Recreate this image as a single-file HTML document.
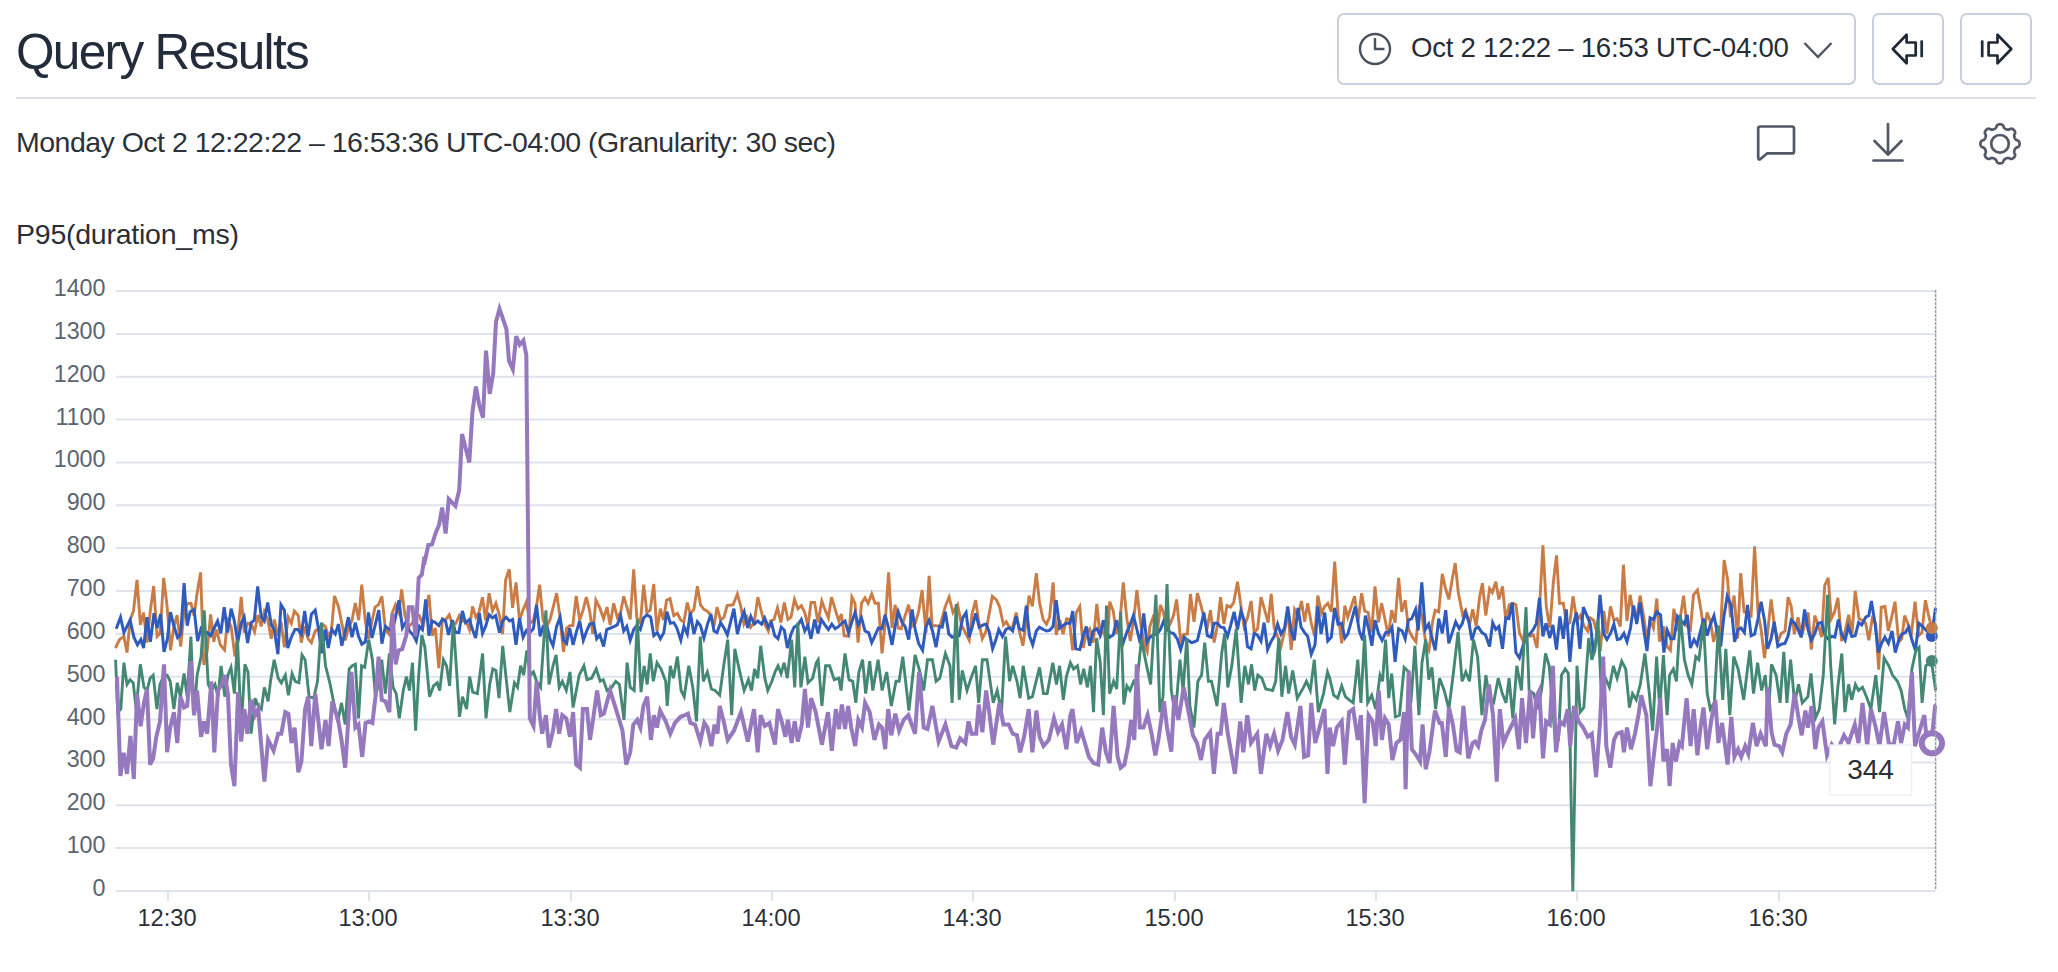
<!DOCTYPE html>
<html><head><meta charset="utf-8">
<style>
html,body{margin:0;padding:0;background:#fff;width:2058px;height:972px;overflow:hidden;position:relative;font-family:"Liberation Sans",sans-serif;}
.abs{position:absolute;white-space:nowrap;}
.title{left:16px;top:22px;font-size:49.5px;letter-spacing:-1.655px;color:#222c3a;line-height:60px;}
.hr{position:absolute;left:16px;top:97px;width:2020px;height:2px;background:#dde2ea;}
.btn{position:absolute;top:13px;height:72px;border:2px solid #c8d0dd;border-radius:7px;box-sizing:border-box;background:#fff;}
.sub{left:16px;top:125px;font-size:28.5px;letter-spacing:-0.513px;color:#2d3239;line-height:34px;}
.ptitle{left:16px;top:216.5px;font-size:28.5px;letter-spacing:-0.242px;color:#2a2f37;line-height:34px;}
.datetxt{left:1411px;top:31px;font-size:27.6px;letter-spacing:-0.256px;color:#262c36;line-height:34px;}
svg.chart{position:absolute;left:0;top:0;}
svg.icons{position:absolute;left:0;top:0;}
</style></head><body>
<div class="abs title">Query Results</div>
<div class="hr"></div>
<div class="btn" style="left:1337px;width:519px;"></div>
<div class="btn" style="left:1872px;width:72px;"></div>
<div class="btn" style="left:1960px;width:72px;"></div>
<div class="abs datetxt">Oct 2 12:22 – 16:53 UTC-04:00</div>
<div class="abs sub">Monday Oct 2 12:22:22 – 16:53:36 UTC-04:00 (Granularity: 30 sec)</div>
<div class="abs ptitle">P95(duration_ms)</div>
<svg class="chart" width="2058" height="972" viewBox="0 0 2058 972">
<g stroke="#dfe3ec" stroke-width="2" fill="none"><line x1="116" y1="891.0" x2="1936" y2="891.0"/><line x1="116" y1="848.1" x2="1936" y2="848.1"/><line x1="116" y1="805.3" x2="1936" y2="805.3"/><line x1="116" y1="762.4" x2="1936" y2="762.4"/><line x1="116" y1="719.6" x2="1936" y2="719.6"/><line x1="116" y1="676.7" x2="1936" y2="676.7"/><line x1="116" y1="633.9" x2="1936" y2="633.9"/><line x1="116" y1="591.0" x2="1936" y2="591.0"/><line x1="116" y1="548.1" x2="1936" y2="548.1"/><line x1="116" y1="505.3" x2="1936" y2="505.3"/><line x1="116" y1="462.4" x2="1936" y2="462.4"/><line x1="116" y1="419.6" x2="1936" y2="419.6"/><line x1="116" y1="376.7" x2="1936" y2="376.7"/><line x1="116" y1="333.9" x2="1936" y2="333.9"/><line x1="116" y1="291.0" x2="1936" y2="291.0"/></g>
<g stroke="#dfe3ec" stroke-width="2" fill="none"><line x1="168.0" y1="891" x2="168.0" y2="901"/><line x1="369.0" y1="891" x2="369.0" y2="901"/><line x1="571.0" y1="891" x2="571.0" y2="901"/><line x1="772.0" y1="891" x2="772.0" y2="901"/><line x1="973.0" y1="891" x2="973.0" y2="901"/><line x1="1175.0" y1="891" x2="1175.0" y2="901"/><line x1="1376.0" y1="891" x2="1376.0" y2="901"/><line x1="1577.0" y1="891" x2="1577.0" y2="901"/><line x1="1779.0" y1="891" x2="1779.0" y2="901"/></g>
<g font-family="Liberation Sans" font-size="23.3" fill="#5b6471" text-anchor="end"><text x="105.5" y="896.0">0</text><text x="105.5" y="853.1">100</text><text x="105.5" y="810.3">200</text><text x="105.5" y="767.4">300</text><text x="105.5" y="724.6">400</text><text x="105.5" y="681.7">500</text><text x="105.5" y="638.9">600</text><text x="105.5" y="596.0">700</text><text x="105.5" y="553.1">800</text><text x="105.5" y="510.3">900</text><text x="105.5" y="467.4">1000</text><text x="105.5" y="424.6">1100</text><text x="105.5" y="381.7">1200</text><text x="105.5" y="338.9">1300</text><text x="105.5" y="296.0">1400</text></g>
<g font-family="Liberation Sans" font-size="23.6" fill="#2b3038" text-anchor="middle"><text x="167.0" y="926">12:30</text><text x="368.0" y="926">13:00</text><text x="570.0" y="926">13:30</text><text x="771.0" y="926">14:00</text><text x="972.0" y="926">14:30</text><text x="1174.0" y="926">15:00</text><text x="1375.0" y="926">15:30</text><text x="1576.0" y="926">16:00</text><text x="1778.0" y="926">16:30</text></g>
<g fill="none" stroke-linejoin="miter" stroke-linecap="butt"><path d="M115.4,648.0 L119.6,639.5 L123.9,636.4 L127.0,652.6 L130.1,620.2 L133.5,611.0 L137.0,579.8 L140.4,624.9 L143.5,612.5 L147.0,642.6 L150.4,610.2 L153.7,586.0 L157.1,636.4 L160.1,633.4 L163.7,577.8 L167.1,606.4 L170.5,650.3 L173.6,628.0 L177.1,615.1 L180.7,646.5 L184.1,611.0 L187.5,603.6 L191.0,603.3 L194.1,615.6 L197.2,592.5 L200.6,572.4 L203.8,665.0 L207.2,651.1 L210.6,614.4 L213.8,641.8 L216.5,629.5 L220.3,644.9 L224.5,649.9 L227.6,620.2 L231.1,626.4 L235.0,656.5 L238.1,631.0 L241.2,596.8 L244.2,632.6 L247.8,623.3 L251.2,624.1 L254.6,631.8 L257.8,615.1 L261.2,626.4 L264.3,611.8 L267.7,619.5 L271.3,638.8 L274.3,619.5 L277.9,635.7 L281.0,621.8 L284.4,647.2 L288.2,617.2 L291.3,623.3 L294.4,611.0 L298.3,615.6 L301.3,642.6 L304.7,626.4 L308.1,638.8 L311.4,642.6 L315.2,631.0 L318.6,628.7 L322.2,624.1 L325.3,626.4 L328.3,635.7 L331.4,631.0 L334.5,595.9 L338.4,606.4 L341.8,623.3 L345.3,640.3 L348.4,628.0 L352.0,620.2 L355.3,603.0 L358.7,620.2 L361.8,584.7 L365.4,621.8 L368.5,638.8 L372.0,621.0 L375.1,607.1 L378.5,604.8 L381.9,596.3 L385.4,629.5 L389.0,634.1 L392.4,612.5 L395.5,604.8 L398.9,612.5 L401.6,589.4 L405.0,615.6 L408.6,626.4 L412.1,623.3 L416.3,614.1 L419.4,615.6 L423.1,626.4 L428.9,594.8 L432.3,635.7 L435.4,628.0 L438.8,668.1 L442.4,618.7 L445.5,620.2 L449.3,614.8 L452.4,624.9 L455.8,623.3 L459.3,615.6 L462.4,621.0 L466.3,621.8 L469.4,629.5 L472.5,606.4 L475.9,617.2 L478.9,612.5 L482.5,597.1 L485.6,620.2 L489.1,593.2 L492.5,611.0 L495.9,603.3 L499.5,615.6 L502.6,634.1 L505.6,580.1 L509.2,569.3 L512.6,607.9 L516.0,582.4 L519.5,620.2 L522.6,611.0 L526.5,601.7 L529.9,623.3 L533.4,620.2 L536.5,606.4 L539.6,584.7 L543.1,620.2 L546.5,626.4 L549.9,620.2 L553.0,607.9 L556.6,593.2 L559.6,614.1 L563.5,651.9 L566.6,628.0 L569.7,625.6 L572.8,625.6 L576.2,595.9 L579.7,620.2 L583.3,609.4 L586.3,597.1 L589.7,611.0 L592.8,634.1 L595.9,600.2 L599.8,607.9 L603.6,618.7 L607.0,607.1 L610.1,624.9 L613.7,603.3 L617.2,617.2 L620.6,612.5 L623.7,596.3 L627.1,607.9 L630.2,619.5 L633.7,569.3 L636.8,617.9 L640.3,623.3 L643.7,584.7 L646.8,612.5 L650.2,610.2 L653.8,584.0 L656.9,631.0 L660.4,608.7 L663.5,620.2 L666.6,600.2 L670.0,598.6 L673.8,615.6 L677.4,613.3 L680.8,620.2 L683.9,621.8 L687.3,602.5 L690.3,614.1 L693.9,609.4 L697.4,586.3 L700.5,604.8 L703.9,609.4 L707.0,611.0 L710.1,614.1 L714.0,626.4 L717.0,607.1 L720.6,620.2 L724.0,617.2 L727.1,605.6 L733.1,604.8 L737.4,594.0 L740.8,606.4 L743.9,624.1 L747.0,617.2 L750.8,627.2 L754.4,621.8 L757.8,597.1 L761.6,612.5 L764.7,624.1 L768.3,631.0 L770.4,621.0 L774.0,619.5 L777.5,607.9 L780.9,622.6 L784.3,602.5 L787.9,619.5 L791.0,617.2 L794.5,599.4 L797.9,608.7 L801.3,605.6 L804.8,612.5 L807.9,626.4 L811.0,602.5 L814.6,602.5 L818.0,622.6 L821.8,601.0 L824.9,609.4 L828.4,617.9 L831.5,597.1 L835.2,609.4 L838.8,621.0 L841.4,614.1 L844.2,635.7 L848.8,636.4 L851.9,597.1 L855.0,603.3 L858.1,642.6 L861.5,603.3 L865.0,597.9 L868.1,603.3 L871.7,594.0 L875.0,603.3 L878.4,603.3 L882.0,653.4 L885.1,624.1 L888.6,572.4 L892.0,628.0 L895.1,604.8 L898.2,628.0 L901.3,628.7 L905.1,615.6 L908.7,604.8 L911.8,626.4 L915.2,623.3 L918.6,611.8 L922.1,590.1 L926.0,632.6 L929.1,575.8 L932.1,626.4 L935.2,625.6 L939.9,626.4 L945.3,606.4 L949.1,597.1 L953.0,612.5 L957.6,604.8 L961.5,624.9 L965.3,632.6 L969.2,640.3 L972.0,614.1 L975.7,600.2 L978.7,621.8 L982.3,638.8 L986.1,631.0 L992.3,596.3 L996.6,600.2 L999.7,607.1 L1003.4,624.9 L1006.2,621.8 L1009.3,627.2 L1012.4,628.0 L1016.2,612.5 L1019.3,631.0 L1022.9,645.7 L1026.0,623.3 L1029.0,595.6 L1032.4,606.4 L1036.3,573.2 L1039.4,601.7 L1043.1,619.5 L1046.5,624.1 L1049.6,617.2 L1053.1,582.4 L1056.2,634.9 L1059.8,620.2 L1063.1,634.1 L1066.5,618.7 L1069.3,619.5 L1072.7,650.3 L1076.3,612.5 L1079.8,606.4 L1083.2,648.0 L1086.3,632.6 L1089.7,628.7 L1093.2,642.6 L1096.8,604.0 L1100.2,635.7 L1103.6,629.5 L1107.1,648.0 L1109.7,601.7 L1113.3,611.0 L1116.4,634.1 L1119.9,621.8 L1123.3,582.4 L1126.7,617.2 L1130.3,641.1 L1133.8,618.7 L1136.9,590.1 L1140.3,621.0 L1144.2,644.9 L1147.2,651.9 L1149.9,626.4 L1153.9,614.8 L1157.0,635.7 L1160.4,604.8 L1163.4,612.5 L1166.8,629.5 L1170.4,623.3 L1173.5,615.6 L1176.6,599.4 L1180.7,640.3 L1183.8,634.1 L1187.4,634.1 L1190.4,594.0 L1194.0,621.8 L1197.4,593.2 L1200.8,604.8 L1203.9,617.2 L1207.4,626.4 L1210.5,610.2 L1214.1,642.6 L1217.5,624.9 L1220.5,597.1 L1223.9,624.1 L1227.0,605.6 L1230.6,607.1 L1233.7,602.5 L1237.5,581.7 L1240.9,605.6 L1244.0,626.4 L1247.5,617.9 L1251.1,601.0 L1254.2,632.6 L1257.6,628.7 L1261.0,597.1 L1264.1,607.9 L1268.1,622.6 L1271.2,594.0 L1274.2,628.0 L1277.6,636.4 L1281.0,646.5 L1284.6,631.0 L1287.7,610.2 L1291.2,649.9 L1294.6,609.4 L1298.0,615.6 L1301.5,601.0 L1304.6,621.8 L1307.7,603.3 L1311.3,623.3 L1314.7,636.4 L1317.8,595.6 L1321.6,613.3 L1324.7,606.4 L1327.8,603.3 L1331.3,611.8 L1334.7,561.6 L1338.1,614.1 L1341.7,643.4 L1344.8,605.6 L1347.8,617.2 L1354.6,596.3 L1358.0,621.8 L1361.6,593.2 L1364.7,611.0 L1368.2,612.5 L1371.6,632.6 L1375.0,586.3 L1378.5,622.6 L1381.6,603.3 L1385.2,620.2 L1388.3,636.4 L1391.7,610.2 L1395.1,622.6 L1398.6,577.8 L1401.7,611.8 L1405.2,600.2 L1408.6,629.5 L1412.0,636.4 L1416.0,641.8 L1419.4,604.8 L1422.5,620.2 L1425.6,641.8 L1429.0,649.6 L1432.6,621.8 L1435.2,610.2 L1438.7,611.8 L1442.3,573.9 L1445.4,587.8 L1448.8,599.4 L1451.8,581.7 L1455.2,563.1 L1458.3,592.5 L1462.6,614.8 L1465.7,610.2 L1469.6,624.1 L1472.7,609.4 L1476.2,626.4 L1479.6,597.1 L1482.4,583.2 L1485.8,615.6 L1489.6,588.6 L1492.3,592.5 L1495.8,581.7 L1498.9,599.4 L1502.5,586.3 L1505.8,620.2 L1509.2,604.8 L1512.8,603.3 L1515.9,604.8 L1519.4,632.6 L1522.8,640.3 L1525.9,632.6 L1529.8,636.4 L1533.3,634.9 L1537.0,648.0 L1539.5,607.9 L1542.9,545.4 L1546.3,606.4 L1549.8,628.0 L1553.4,581.7 L1556.5,555.4 L1559.5,603.3 L1563.3,603.3 L1566.8,624.9 L1569.9,622.6 L1573.0,596.3 L1576.8,620.2 L1580.2,615.6 L1583.8,625.6 L1587.6,631.0 L1590.4,617.9 L1593.5,620.2 L1596.9,632.6 L1600.3,651.1 L1603.8,611.0 L1606.9,634.1 L1610.5,606.4 L1613.9,620.2 L1617.0,618.7 L1620.3,626.4 L1623.4,564.7 L1627.0,621.0 L1630.1,594.8 L1633.6,614.1 L1636.7,618.7 L1640.1,595.6 L1644.0,618.7 L1647.0,640.3 L1650.1,620.2 L1653.4,628.0 L1656.8,598.6 L1659.4,640.3 L1660.0,640.3 L1663.9,626.4 L1667.0,646.5 L1670.4,650.3 L1673.9,608.7 L1677.5,631.0 L1680.6,615.6 L1683.6,595.6 L1687.0,626.4 L1690.4,629.5 L1693.5,594.8 L1697.5,590.1 L1700.9,609.4 L1704.0,632.6 L1707.1,612.5 L1710.5,621.8 L1713.6,641.8 L1717.1,628.0 L1720.2,638.8 L1724.1,560.1 L1727.5,578.6 L1730.5,617.2 L1734.1,595.6 L1737.6,638.8 L1740.7,573.2 L1744.1,611.8 L1747.5,612.5 L1751.1,615.6 L1754.6,546.2 L1758.0,612.5 L1761.1,629.5 L1764.5,658.0 L1767.6,632.6 L1771.1,599.4 L1774.2,624.1 L1777.8,641.8 L1781.2,633.4 L1785.0,631.0 L1788.1,597.1 L1791.2,606.4 L1794.3,634.1 L1798.1,617.2 L1801.2,637.2 L1804.3,626.4 L1808.2,612.5 L1811.3,649.6 L1814.8,615.6 L1818.2,624.9 L1821.6,637.2 L1824.7,585.5 L1828.2,577.8 L1831.3,618.7 L1834.4,612.5 L1837.9,597.9 L1841.6,641.1 L1845.2,631.0 L1848.7,614.8 L1852.1,633.4 L1855.2,590.9 L1859.1,618.7 L1862.2,620.2 L1865.7,623.3 L1868.8,640.3 L1872.2,618.7 L1875.6,623.3 L1878.7,669.6 L1881.2,607.1 L1884.9,606.4 L1888.4,631.0 L1892.0,615.6 L1895.0,601.7 L1898.7,641.8 L1901.8,638.8 L1904.6,615.6 L1908.0,624.1 L1911.5,632.6 L1915.1,601.7 L1918.5,635.7 L1921.9,632.6 L1925.4,600.2 L1929.0,617.2 L1931.6,628.0 L1935.5,628.3" stroke="#c97c46" stroke-width="2.9"/><path d="M116.2,628.7 L120.5,617.2 L123.9,632.6 L130.1,620.2 L133.9,637.2 L137.5,644.9 L140.9,639.5 L143.6,648.0 L147.0,617.2 L150.4,641.8 L154.0,613.3 L157.1,628.0 L160.6,614.1 L164.0,651.9 L167.4,638.8 L170.5,612.2 L174.0,626.4 L177.6,637.5 L180.7,634.1 L184.1,583.2 L187.2,625.6 L190.2,611.8 L194.1,609.4 L197.6,641.1 L201.0,628.7 L204.1,632.6 L207.2,632.6 L210.6,635.7 L214.2,628.0 L217.6,621.0 L220.8,633.4 L224.2,607.1 L227.6,632.6 L231.1,608.7 L234.2,620.2 L237.8,642.6 L241.2,623.3 L244.2,617.2 L247.6,643.1 L251.2,622.6 L254.3,620.2 L257.7,586.3 L261.2,617.2 L264.3,621.0 L267.7,602.5 L271.3,624.9 L274.3,629.5 L277.9,654.2 L281.0,604.8 L284.4,610.2 L287.8,648.0 L291.3,637.2 L294.9,629.5 L297.9,629.5 L301.3,634.1 L304.7,611.0 L308.1,636.4 L311.4,614.1 L315.2,610.2 L318.6,629.5 L321.7,653.4 L325.3,629.5 L328.3,648.0 L331.9,629.5 L335.3,634.1 L338.4,624.1 L341.8,645.7 L345.3,631.0 L348.4,617.2 L352.0,637.2 L355.3,622.6 L358.4,635.7 L361.8,644.2 L365.4,641.8 L368.5,612.5 L372.0,638.0 L375.4,624.1 L378.8,610.2 L381.9,643.7 L385.4,626.4 L389.0,629.5 L392.4,631.0 L395.5,617.2 L398.9,600.2 L402.4,628.0 L406.0,621.8 L409.4,631.0 L413.2,634.9 L416.3,641.1 L419.4,626.4 L422.3,629.5 L425.7,599.4 L428.9,635.7 L432.0,621.0 L435.4,622.6 L438.8,625.6 L442.4,619.5 L445.5,621.0 L448.5,634.9 L452.4,620.2 L455.5,632.6 L458.9,632.6 L462.4,611.0 L465.5,622.6 L469.4,619.5 L472.5,629.5 L475.6,638.0 L479.4,613.3 L482.5,633.4 L485.6,626.4 L489.1,614.8 L492.5,617.9 L495.6,615.6 L499.5,632.6 L502.6,621.0 L506.1,617.2 L509.5,621.0 L512.6,619.5 L516.0,644.9 L519.5,617.9 L523.1,637.2 L526.5,630.3 L529.9,632.6 L533.4,628.7 L536.5,604.8 L540.1,636.4 L543.1,626.4 L546.5,624.1 L549.9,638.8 L553.0,645.7 L556.6,626.4 L560.1,617.2 L563.5,640.3 L566.6,643.4 L569.7,628.0 L573.1,644.9 L576.2,632.6 L579.7,621.0 L583.3,640.3 L586.7,631.0 L589.7,624.1 L593.6,623.3 L596.7,638.8 L599.8,634.9 L603.6,646.5 L606.7,629.5 L610.6,628.0 L614.4,626.4 L617.2,624.9 L620.6,615.6 L623.7,631.0 L626.8,626.4 L630.2,640.3 L633.7,629.5 L636.8,625.6 L640.3,629.5 L643.7,617.9 L647.1,614.8 L650.7,617.2 L653.8,635.7 L657.3,632.6 L660.4,638.8 L663.8,632.6 L666.9,611.8 L670.3,623.3 L673.8,622.6 L676.9,628.0 L680.8,640.3 L683.9,626.4 L687.3,634.1 L690.3,612.5 L693.9,634.1 L697.4,621.8 L700.5,625.6 L703.9,638.0 L707.3,624.9 L710.9,614.1 L714.0,631.0 L717.0,632.6 L720.6,622.6 L724.0,628.0 L727.4,634.9 L733.9,608.7 L737.4,634.1 L740.8,620.2 L744.2,611.8 L747.7,628.0 L750.8,616.4 L754.4,624.1 L757.8,621.0 L761.6,624.1 L764.7,617.9 L768.3,627.2 L771.4,622.6 L774.7,635.7 L778.1,638.8 L781.2,627.2 L784.3,630.3 L787.4,648.0 L791.0,634.1 L794.0,627.2 L797.9,624.9 L801.3,619.5 L804.8,631.0 L807.9,625.6 L811.0,638.8 L814.6,619.5 L818.0,633.4 L821.3,619.5 L824.9,624.9 L828.4,629.5 L831.8,624.1 L835.2,628.7 L838.8,626.4 L842.3,622.6 L845.0,621.0 L848.5,632.6 L851.9,621.8 L855.0,612.5 L858.1,624.9 L861.5,617.9 L865.0,631.0 L868.6,632.6 L871.7,642.6 L875.0,635.7 L878.4,628.0 L882.0,628.7 L885.1,614.8 L888.6,628.0 L892.0,644.9 L895.1,626.4 L898.2,611.8 L902.1,622.6 L905.1,626.4 L908.7,639.5 L912.1,609.4 L915.2,629.5 L918.6,643.4 L922.6,650.3 L925.7,627.2 L929.1,620.2 L932.5,631.0 L936.0,647.2 L939.5,626.4 L942.2,627.2 L945.3,611.8 L948.8,634.1 L952.2,637.2 L955.6,635.7 L959.1,635.7 L962.7,617.9 L966.1,612.5 L969.2,637.2 L972.6,625.6 L975.7,613.3 L979.2,627.2 L983.1,624.9 L986.1,624.1 L989.2,631.8 L992.6,648.8 L995.7,640.3 L998.8,629.5 L1002.4,636.4 L1005.9,629.5 L1009.3,628.0 L1012.7,631.0 L1016.2,616.4 L1019.3,628.7 L1023.2,630.3 L1026.3,605.6 L1029.4,635.7 L1032.7,644.9 L1036.3,631.0 L1039.4,627.2 L1043.4,629.5 L1046.5,631.0 L1049.6,630.3 L1053.1,626.4 L1056.2,600.2 L1059.8,628.0 L1063.1,625.6 L1066.5,623.3 L1070.1,623.3 L1072.7,611.0 L1075.8,648.8 L1079.8,649.6 L1083.2,635.7 L1086.3,626.4 L1089.7,645.7 L1093.2,631.0 L1096.8,628.7 L1100.2,634.9 L1103.3,620.2 L1106.7,632.6 L1109.7,637.2 L1113.3,634.9 L1116.4,620.2 L1119.9,632.6 L1123.3,642.6 L1126.7,632.6 L1130.3,624.1 L1133.4,615.6 L1136.9,629.5 L1140.3,643.4 L1143.7,613.3 L1146.8,642.6 L1149.9,637.2 L1153.4,634.9 L1157.0,634.1 L1160.4,629.5 L1163.4,621.8 L1166.8,628.7 L1170.4,632.6 L1173.5,633.4 L1177.3,638.8 L1180.7,649.6 L1184.3,637.2 L1188.1,640.3 L1191.5,642.6 L1194.6,641.8 L1197.4,640.3 L1200.8,626.4 L1203.9,612.5 L1207.4,635.7 L1211.0,637.2 L1214.1,623.3 L1217.5,623.3 L1220.8,627.2 L1223.9,627.6 L1227.5,636.4 L1230.6,625.6 L1234.1,611.8 L1237.5,629.5 L1240.9,611.0 L1244.5,621.0 L1247.5,646.5 L1251.1,648.8 L1254.2,633.4 L1257.3,634.9 L1261.0,641.1 L1264.1,622.6 L1267.6,649.6 L1271.2,641.1 L1274.2,636.4 L1277.6,624.1 L1281.0,634.1 L1284.6,628.0 L1287.7,606.4 L1291.2,631.0 L1294.3,640.3 L1298.0,607.9 L1301.1,627.2 L1304.6,632.6 L1307.7,636.4 L1311.3,654.2 L1315.0,644.9 L1317.8,606.4 L1321.1,634.1 L1324.7,612.5 L1327.8,641.1 L1331.3,637.2 L1334.7,607.9 L1338.1,624.1 L1341.7,623.3 L1344.8,638.0 L1347.8,634.1 L1355.4,606.4 L1359.3,631.0 L1362.7,640.3 L1365.4,615.6 L1368.8,629.5 L1371.9,645.7 L1375.0,620.2 L1378.5,633.4 L1382.1,640.3 L1385.8,632.6 L1388.9,632.6 L1392.0,627.2 L1395.1,661.9 L1398.6,628.7 L1402.2,631.0 L1405.2,638.8 L1408.3,620.2 L1411.7,618.7 L1415.6,609.4 L1418.2,630.3 L1421.8,582.4 L1425.3,629.5 L1428.7,624.1 L1431.8,637.2 L1435.2,650.3 L1438.7,618.7 L1442.3,633.4 L1445.7,610.2 L1448.8,643.4 L1452.2,632.6 L1455.7,621.8 L1459.2,628.7 L1462.3,623.3 L1465.4,612.5 L1468.8,621.8 L1471.9,640.3 L1475.3,628.7 L1478.4,627.2 L1481.9,632.6 L1485.5,634.9 L1489.6,646.5 L1492.7,622.6 L1495.8,629.5 L1498.9,626.4 L1502.5,648.8 L1505.8,617.9 L1508.9,618.7 L1512.3,602.5 L1515.9,652.6 L1519.4,658.0 L1522.8,646.5 L1526.2,635.7 L1529.8,634.1 L1533.3,629.5 L1536.4,623.3 L1539.5,597.9 L1542.9,636.4 L1546.0,623.3 L1549.8,638.0 L1552.9,624.9 L1556.5,649.6 L1559.9,616.4 L1563.3,638.8 L1566.3,609.4 L1569.9,661.9 L1573.0,625.6 L1576.5,612.5 L1579.9,648.8 L1583.3,607.1 L1586.9,615.6 L1590.4,624.1 L1593.5,652.6 L1596.9,635.7 L1600.0,594.8 L1603.8,634.1 L1606.9,639.5 L1610.5,633.4 L1613.9,624.1 L1617.3,639.5 L1620.3,638.8 L1623.9,633.4 L1627.0,641.8 L1630.5,628.0 L1633.6,605.6 L1636.7,624.1 L1640.1,602.5 L1643.5,628.0 L1647.0,651.1 L1650.1,617.9 L1653.4,619.5 L1656.8,611.8 L1659.4,614.1 L1660.5,614.8 L1663.9,652.6 L1667.3,630.3 L1670.8,638.8 L1673.9,638.8 L1677.5,616.4 L1680.6,620.2 L1684.3,624.1 L1687.3,614.8 L1690.4,648.0 L1694.0,639.5 L1697.1,644.9 L1700.1,632.6 L1703.7,618.7 L1707.1,635.7 L1710.5,624.1 L1714.0,615.6 L1717.6,634.1 L1720.7,646.5 L1723.8,617.2 L1727.2,596.3 L1731.0,604.8 L1734.6,641.8 L1738.0,629.5 L1741.0,628.0 L1744.4,632.6 L1747.5,604.8 L1751.1,635.7 L1754.6,634.1 L1758.0,618.7 L1761.1,601.7 L1764.5,620.2 L1767.6,648.8 L1771.1,638.8 L1774.2,621.8 L1777.8,646.5 L1781.2,644.2 L1785.0,643.4 L1788.1,635.7 L1791.2,620.2 L1794.7,623.3 L1798.1,629.5 L1801.2,637.2 L1804.6,609.4 L1808.2,630.3 L1811.3,640.3 L1814.8,633.4 L1818.2,623.3 L1821.6,622.6 L1825.1,635.7 L1828.2,638.8 L1831.8,636.4 L1834.9,637.2 L1838.3,619.5 L1841.6,634.1 L1845.2,640.3 L1848.3,626.4 L1851.8,636.4 L1855.2,635.7 L1858.6,622.6 L1861.7,624.9 L1865.7,617.2 L1868.8,615.6 L1871.4,601.0 L1875.0,623.3 L1878.4,652.6 L1881.5,643.4 L1884.9,637.2 L1888.4,643.4 L1892.0,631.0 L1895.3,652.6 L1898.7,640.3 L1901.8,634.1 L1905.4,632.6 L1908.5,627.2 L1912.0,640.3 L1915.4,650.3 L1918.8,623.3 L1922.4,626.4 L1925.4,629.5 L1931.6,635.7 L1935.5,607.9" stroke="#2f5bbd" stroke-width="3.0"/><path d="M115.6,659.7 L117.7,712.1 L120.8,709.1 L123.9,662.7 L127.0,684.4 L130.1,679.7 L133.2,682.8 L136.2,709.1 L140.3,664.3 L144.0,687.4 L147.0,690.5 L150.1,678.2 L153.2,675.1 L156.9,709.1 L160.0,684.4 L164.0,675.1 L167.1,675.1 L170.2,681.3 L173.9,709.1 L177.3,682.8 L180.4,696.7 L184.1,673.5 L187.2,696.7 L190.9,636.5 L194.0,715.2 L197.1,675.1 L201.1,656.6 L204.2,610.3 L208.2,684.4 L211.3,690.5 L215.0,684.4 L218.0,696.7 L221.1,665.8 L224.8,696.7 L227.9,675.1 L231.0,667.4 L234.4,693.6 L237.5,639.6 L241.2,727.6 L244.9,664.3 L248.0,672.0 L251.1,733.7 L255.1,698.2 L258.2,706.0 L261.3,709.1 L264.4,687.4 L268.1,701.3 L270.5,681.3 L274.2,659.7 L278.2,678.2 L281.3,682.8 L285.3,675.1 L288.4,695.2 L292.1,673.5 L295.2,681.3 L298.9,682.8 L302.0,655.0 L305.1,659.7 L309.1,696.7 L313.7,698.2 L317.5,681.3 L321.5,622.6 L325.5,665.8 L329.8,682.8 L333.8,702.9 L337.8,721.4 L341.5,702.9 L345.2,724.5 L349.2,668.9 L352.3,665.8 L355.4,664.3 L358.5,718.3 L361.6,665.8 L364.7,667.4 L368.7,639.6 L372.4,659.7 L375.5,696.7 L379.2,681.3 L381.7,659.7 L385.4,693.6 L389.4,653.5 L393.1,687.4 L396.2,693.6 L399.3,718.3 L403.3,690.5 L406.4,676.6 L409.4,690.5 L412.5,662.7 L415.6,730.7 L418.7,675.1 L421.8,635.0 L424.9,647.3 L429.5,696.7 L433.5,685.9 L437.2,682.8 L439.7,690.5 L443.4,659.7 L446.5,665.8 L449.6,685.9 L453.3,622.6 L457.3,681.3 L459.5,716.8 L462.5,696.7 L466.6,709.1 L469.6,676.6 L472.7,692.1 L477.4,693.6 L482.6,653.5 L486.0,718.3 L489.7,684.4 L492.8,668.9 L495.9,670.5 L499.0,698.2 L502.7,645.8 L505.8,675.1 L509.8,712.1 L514.4,682.8 L517.5,687.4 L520.6,665.8 L523.7,675.1 L526.8,650.4 L530.5,675.1 L533.5,672.0 L536.6,681.3 L540.6,687.4 L545.9,610.3 L549.0,684.4 L553.0,665.8 L556.1,655.0 L559.2,687.4 L562.3,681.3 L566.3,690.5 L570.0,672.0 L573.1,707.5 L579.2,675.1 L583.9,665.8 L587.0,679.7 L591.6,678.2 L596.2,668.9 L600.2,681.3 L603.3,679.7 L607.0,690.5 L611.7,687.4 L615.7,681.3 L619.4,684.4 L624.0,719.9 L627.1,662.7 L630.2,687.4 L634.2,690.5 L637.3,619.5 L641.0,692.1 L644.1,665.8 L647.2,684.4 L650.2,653.5 L653.3,681.3 L657.0,662.7 L661.0,668.9 L665.7,681.3 L667.2,706.0 L670.3,665.8 L673.4,678.2 L677.4,656.6 L681.1,690.5 L684.2,696.7 L688.8,665.8 L692.8,687.4 L696.5,721.4 L700.3,636.5 L703.3,681.3 L707.4,672.0 L711.4,689.0 L715.1,690.5 L719.7,695.2 L723.7,665.8 L727.7,639.6 L731.7,715.2 L734.8,648.9 L739.1,668.9 L744.1,690.5 L748.4,679.7 L751.5,690.5 L754.6,668.9 L757.7,678.2 L760.7,645.8 L764.8,678.2 L767.8,690.5 L771.9,681.3 L775.0,672.0 L778.0,665.8 L781.1,673.5 L784.2,662.7 L787.3,678.2 L791.6,639.6 L794.7,687.4 L797.8,622.6 L800.9,687.4 L804.9,656.6 L808.0,682.8 L812.6,678.2 L816.3,662.7 L818.2,659.7 L821.9,706.0 L825.6,665.8 L829.6,665.8 L834.2,679.7 L838.9,678.2 L841.0,690.5 L845.0,653.5 L849.0,679.7 L852.7,681.3 L855.8,702.9 L858.9,672.0 L862.6,659.7 L865.7,693.6 L869.7,661.2 L872.8,690.5 L878.1,659.7 L882.1,690.5 L886.7,672.0 L891.3,706.0 L896.0,681.3 L899.1,681.3 L902.8,656.6 L908.9,710.6 L915.1,655.0 L920.0,672.0 L923.7,690.5 L927.5,659.7 L932.4,659.7 L936.1,681.3 L939.8,678.2 L945.4,653.5 L950.0,665.8 L952.1,702.9 L956.2,604.1 L959.2,699.8 L962.3,670.5 L967.0,690.5 L971.6,676.6 L975.6,665.8 L978.7,702.9 L982.4,659.7 L987.0,659.7 L993.2,702.9 L997.2,690.5 L1001.5,712.1 L1005.6,636.5 L1009.6,681.3 L1012.7,665.8 L1017.0,681.3 L1020.1,698.2 L1023.2,665.8 L1028.7,698.2 L1032.4,696.7 L1039.5,667.4 L1043.5,693.6 L1047.2,693.6 L1052.8,662.7 L1056.5,684.4 L1059.6,665.8 L1063.3,699.8 L1066.4,676.6 L1070.4,662.7 L1073.5,668.9 L1077.5,665.8 L1080.6,684.4 L1083.7,668.9 L1087.4,687.4 L1090.5,665.8 L1093.5,712.1 L1096.6,638.0 L1100.3,662.7 L1103.4,715.2 L1106.5,605.6 L1109.6,693.6 L1113.6,681.3 L1116.7,689.0 L1120.7,611.8 L1123.8,704.4 L1126.9,685.9 L1130.0,690.5 L1133.7,681.3 L1136.8,684.4 L1141.4,639.6 L1146.0,662.7 L1150.6,684.4 L1155.9,594.8 L1159.9,712.1 L1163.0,696.7 L1167.0,584.0 L1171.3,690.5 L1175.3,715.2 L1180.0,659.7 L1183.1,690.5 L1186.8,638.0 L1189.9,706.0 L1193.9,727.6 L1197.9,681.3 L1201.6,675.1 L1204.7,642.7 L1208.4,681.3 L1211.5,681.3 L1217.0,706.0 L1221.7,653.5 L1224.7,633.4 L1227.8,687.4 L1231.8,665.8 L1236.2,628.8 L1241.1,702.9 L1244.8,665.8 L1248.5,684.4 L1251.6,664.3 L1254.7,690.5 L1257.8,675.1 L1261.8,678.2 L1265.8,689.0 L1272.6,690.5 L1275.7,681.3 L1278.8,638.0 L1281.8,696.7 L1285.6,665.8 L1288.6,693.6 L1292.7,670.5 L1297.3,698.2 L1303.5,687.4 L1306.5,681.3 L1310.3,690.5 L1314.3,659.7 L1318.3,712.1 L1323.5,693.6 L1327.5,672.0 L1329.7,678.2 L1333.7,695.2 L1337.7,698.2 L1341.7,685.9 L1345.4,696.7 L1349.1,699.8 L1353.2,702.9 L1357.8,659.7 L1360.9,702.9 L1364.6,635.0 L1367.7,702.9 L1371.7,695.2 L1375.7,709.1 L1380.0,675.1 L1382.5,681.3 L1385.6,639.6 L1388.7,698.2 L1391.7,673.5 L1395.4,716.8 L1399.5,715.2 L1404.1,667.4 L1408.7,672.0 L1410.9,702.9 L1414.9,645.8 L1418.9,715.2 L1422.0,662.7 L1425.7,639.6 L1428.8,679.7 L1431.9,667.4 L1435.6,709.1 L1439.6,678.2 L1444.2,690.5 L1448.9,709.1 L1453.5,672.0 L1458.1,631.9 L1462.1,681.3 L1465.8,672.0 L1469.5,681.3 L1473.5,639.6 L1477.6,656.6 L1481.9,715.2 L1485.9,675.1 L1489.9,701.3 L1493.6,702.9 L1498.2,678.2 L1502.3,693.6 L1506.0,702.9 L1509.1,678.2 L1512.8,718.3 L1516.8,665.8 L1521.4,690.5 L1526.0,607.2 L1529.1,690.5 L1533.7,693.6 L1537.5,709.1 L1541.5,690.5 L1545.5,653.5 L1549.2,665.8 L1552.3,702.9 L1555.4,743.0 L1558.4,739.9 L1561.5,675.1 L1565.2,668.9 L1568.3,673.5 L1569.6,718.3 L1572.8,891.2 L1577.0,665.8 L1580.1,712.1 L1583.8,707.5 L1588.7,638.0 L1591.8,659.7 L1594.9,650.4 L1598.0,619.5 L1601.7,702.9 L1605.4,678.2 L1609.4,687.4 L1613.4,665.8 L1617.1,678.2 L1621.7,661.2 L1625.7,668.9 L1629.4,707.5 L1632.5,693.6 L1636.2,699.8 L1640.3,684.4 L1644.9,653.5 L1649.5,695.2 L1652.6,730.7 L1656.6,656.6 L1659.7,709.1 L1663.4,655.0 L1667.1,715.2 L1669.6,675.1 L1673.3,668.9 L1676.4,681.3 L1680.4,614.9 L1684.4,659.7 L1688.1,675.1 L1691.8,684.4 L1695.8,656.6 L1698.9,659.7 L1703.5,622.6 L1707.2,693.6 L1710.3,709.1 L1714.3,702.9 L1718.4,625.7 L1722.7,699.8 L1725.8,648.9 L1729.8,715.2 L1733.8,656.6 L1738.1,668.9 L1743.7,699.8 L1749.8,650.4 L1753.5,693.6 L1757.6,662.7 L1761.6,690.5 L1765.3,675.1 L1768.4,715.2 L1771.5,664.3 L1776.1,675.1 L1780.1,702.9 L1783.8,651.9 L1786.9,702.9 L1790.6,659.7 L1794.6,702.9 L1798.6,684.4 L1802.3,702.9 L1807.9,696.7 L1811.0,673.5 L1815.3,718.3 L1819.3,709.1 L1823.3,675.1 L1827.6,594.8 L1830.7,665.8 L1834.7,724.5 L1837.8,687.4 L1841.8,653.5 L1844.9,712.1 L1848.6,684.4 L1851.7,699.8 L1855.4,684.4 L1858.5,690.5 L1862.5,687.4 L1866.5,696.7 L1870.9,709.1 L1875.8,675.1 L1879.5,712.1 L1884.1,658.1 L1888.8,665.8 L1892.5,675.1 L1897.4,681.3 L1901.1,690.5 L1904.8,709.1 L1907.9,718.3 L1911.9,668.9 L1915.9,650.4 L1919.0,647.3 L1922.1,702.9 L1925.8,665.8 L1931.4,661.2 L1935.7,690.5" stroke="#448874" stroke-width="2.9"/><path d="M117.0,676.9 L120.4,776.0 L123.7,752.9 L127.0,773.9 L130.4,735.9 L133.8,778.8 L137.1,693.9 L140.6,726.3 L144.0,702.9 L147.0,689.0 L150.1,764.6 L153.2,758.4 L156.3,736.8 L160.0,721.4 L164.0,664.3 L167.1,752.3 L170.2,727.6 L173.9,712.1 L177.3,743.0 L180.4,696.7 L184.1,707.5 L187.2,706.0 L190.9,661.2 L194.0,715.2 L197.1,690.5 L201.1,736.8 L204.2,721.4 L207.2,733.7 L211.3,681.3 L214.3,752.3 L218.0,690.5 L221.8,684.4 L224.8,675.1 L227.9,693.6 L231.0,764.6 L234.4,786.2 L238.1,692.1 L241.2,741.5 L244.3,709.1 L247.4,733.7 L251.1,699.8 L255.1,715.2 L258.2,709.1 L261.3,746.1 L264.4,781.6 L268.1,739.9 L273.6,750.7 L278.2,733.7 L281.3,733.7 L285.3,712.1 L288.4,713.7 L291.5,743.0 L294.6,727.6 L298.3,772.3 L301.4,761.5 L305.1,709.1 L308.2,696.7 L311.3,746.1 L315.3,693.6 L321.5,749.2 L325.5,719.9 L328.6,746.1 L332.3,701.3 L338.4,721.4 L341.5,739.9 L345.2,767.7 L351.4,672.0 L355.4,727.6 L358.5,724.5 L362.2,756.9 L365.6,722.9 L369.3,721.4 L372.4,722.9 L375.5,696.7 L378.6,656.6 L381.7,699.8 L385.4,701.3 L389.4,712.1 L392.5,613.4 L395.6,664.3 L398.6,650.4 L402.3,648.9 L406.4,635.0 L408.8,607.2 L412.5,607.2 L415.6,636.5 L418.7,577.8 L421.8,574.8 L424.0,560.0 L424.9,560.9 L428.3,545.0 L432.0,544.5 L435.5,533.5 L439.0,525.0 L442.2,507.6 L445.6,533.5 L448.8,499.0 L455.4,506.0 L459.2,490.3 L462.0,434.0 L469.3,462.4 L472.4,412.5 L475.9,386.6 L479.3,405.3 L483.0,417.7 L486.0,350.6 L489.7,393.8 L493.2,373.6 L496.0,321.8 L499.5,308.8 L506.4,329.0 L509.0,360.7 L512.8,369.3 L516.2,336.2 L519.7,344.8 L523.4,340.5 L526.3,354.9 L528.3,560.0 L529.8,718.3 L533.5,726.0 L536.6,681.3 L539.7,715.2 L542.2,733.7 L545.9,715.2 L549.0,747.6 L553.0,730.7 L556.1,709.1 L559.2,733.7 L562.3,715.2 L566.3,718.3 L570.0,736.8 L573.1,712.1 L576.2,764.6 L579.9,767.7 L582.9,709.1 L587.0,709.1 L590.0,739.9 L594.1,712.1 L597.1,690.5 L600.8,715.2 L603.9,713.7 L610.1,690.5 L617.8,715.2 L622.5,730.7 L626.2,764.6 L630.2,752.3 L633.3,724.5 L637.3,719.9 L640.4,727.6 L643.4,706.0 L647.2,696.7 L650.9,739.9 L653.9,715.2 L657.0,727.6 L660.1,710.6 L665.7,721.4 L670.3,733.7 L674.9,722.9 L680.5,716.8 L684.8,715.2 L687.9,713.7 L690.4,722.9 L695.0,724.5 L700.3,741.5 L704.3,722.9 L707.4,727.6 L711.4,746.1 L714.5,724.5 L717.5,733.7 L719.7,706.0 L723.7,721.4 L727.7,739.9 L733.9,730.7 L741.0,712.1 L747.8,741.5 L754.0,709.1 L757.7,752.3 L760.7,715.2 L764.8,726.0 L769.4,722.9 L775.0,744.6 L778.0,709.1 L781.7,721.4 L785.4,736.8 L787.9,719.9 L791.6,743.0 L794.7,721.4 L797.8,741.5 L801.8,724.5 L804.9,689.0 L808.0,727.6 L811.1,698.2 L815.7,712.1 L821.9,744.6 L828.0,712.1 L831.8,750.7 L835.8,709.1 L838.9,729.1 L841.9,704.4 L845.0,729.1 L848.1,706.0 L851.2,727.6 L855.2,746.1 L858.3,719.9 L862.0,727.6 L865.1,702.9 L869.7,712.1 L874.4,739.9 L879.0,724.5 L882.1,727.6 L885.2,749.2 L888.2,709.1 L891.3,735.3 L895.3,713.7 L899.1,730.7 L903.7,719.9 L908.3,715.2 L915.1,733.7 L919.1,672.0 L923.7,727.6 L927.5,729.1 L932.4,706.0 L938.6,741.5 L945.4,724.5 L951.5,746.1 L956.2,747.6 L960.2,738.4 L965.4,743.0 L968.5,721.4 L971.6,733.7 L976.2,733.7 L978.7,704.4 L982.4,732.2 L986.1,690.5 L989.2,712.1 L993.2,744.6 L999.4,702.9 L1003.4,724.5 L1008.6,724.5 L1012.7,733.7 L1017.0,735.3 L1020.1,752.3 L1024.1,736.8 L1028.7,709.1 L1032.4,752.3 L1036.4,710.6 L1039.5,736.8 L1043.5,746.1 L1048.8,739.9 L1054.0,718.3 L1058.0,732.2 L1062.0,724.5 L1066.4,749.2 L1070.4,715.2 L1072.5,709.1 L1076.6,743.0 L1081.2,730.7 L1085.8,746.1 L1088.9,756.9 L1093.5,763.1 L1098.2,764.6 L1102.2,727.6 L1105.9,752.3 L1109.6,763.1 L1113.6,706.0 L1117.6,756.9 L1120.7,767.7 L1124.4,764.6 L1128.1,746.1 L1131.2,719.9 L1134.3,739.9 L1136.8,664.3 L1139.8,727.6 L1143.5,727.6 L1147.6,715.2 L1151.6,733.7 L1155.3,755.4 L1158.4,739.9 L1163.9,701.3 L1167.0,727.6 L1171.3,751.7 L1174.4,695.2 L1178.4,719.9 L1183.7,687.4 L1189.2,715.2 L1192.9,735.3 L1197.0,743.0 L1201.0,760.0 L1204.7,739.9 L1210.2,732.2 L1213.9,773.9 L1217.6,733.7 L1220.7,733.7 L1223.8,702.9 L1227.8,733.7 L1234.9,773.9 L1240.2,721.4 L1243.3,752.3 L1247.3,715.2 L1251.0,743.0 L1257.2,733.7 L1260.9,773.9 L1266.4,733.7 L1270.1,746.1 L1274.1,733.7 L1278.1,750.7 L1282.5,739.9 L1287.4,712.1 L1291.1,736.8 L1294.8,744.6 L1300.4,706.0 L1304.1,756.9 L1308.1,755.4 L1311.2,702.9 L1315.2,743.0 L1319.5,727.6 L1324.5,709.1 L1327.5,773.9 L1329.7,727.6 L1333.1,746.1 L1336.8,727.6 L1341.7,721.4 L1344.8,764.6 L1349.1,712.1 L1353.2,709.1 L1357.8,739.9 L1360.9,715.2 L1364.6,803.2 L1368.6,715.2 L1372.6,721.4 L1375.7,746.1 L1378.8,690.5 L1381.9,739.9 L1385.0,718.3 L1388.7,724.5 L1392.4,760.0 L1396.4,743.0 L1400.4,739.9 L1404.1,712.1 L1405.6,789.3 L1408.7,670.5 L1411.8,749.2 L1416.4,755.4 L1420.1,761.5 L1422.6,724.5 L1425.7,769.2 L1429.4,752.3 L1435.0,710.6 L1439.6,722.9 L1441.8,722.9 L1445.8,756.9 L1448.9,707.5 L1452.9,724.5 L1456.6,750.7 L1459.7,752.3 L1463.4,706.0 L1468.3,758.4 L1472.6,743.0 L1475.1,741.5 L1478.2,746.1 L1481.3,730.7 L1485.0,719.9 L1489.0,684.4 L1493.0,715.2 L1496.7,781.6 L1499.8,709.1 L1503.5,743.0 L1507.5,733.7 L1512.1,724.5 L1515.2,718.3 L1518.9,749.2 L1522.0,698.2 L1526.0,743.0 L1530.0,690.5 L1533.1,738.4 L1536.2,696.7 L1539.3,690.5 L1543.0,758.4 L1546.1,721.4 L1549.8,724.5 L1552.9,665.8 L1556.0,752.3 L1560.0,721.4 L1564.0,724.5 L1567.7,709.1 L1570.2,746.1 L1573.9,706.0 L1578.5,721.4 L1583.1,727.6 L1587.8,736.8 L1591.8,733.7 L1596.1,777.0 L1600.1,721.4 L1603.2,656.6 L1606.3,746.1 L1610.3,767.7 L1614.0,739.9 L1617.1,733.7 L1621.7,732.2 L1623.9,752.3 L1627.0,727.6 L1631.0,749.2 L1635.0,733.7 L1638.7,713.7 L1641.2,695.2 L1646.4,715.2 L1650.4,786.2 L1653.5,758.4 L1657.2,727.6 L1660.3,698.2 L1663.4,761.5 L1667.1,749.2 L1669.6,786.2 L1672.7,743.0 L1675.8,761.5 L1679.5,743.0 L1681.9,746.1 L1686.6,698.2 L1690.6,746.1 L1693.7,709.1 L1697.4,755.4 L1700.5,727.6 L1703.5,707.5 L1707.2,749.2 L1711.3,719.9 L1715.3,699.8 L1718.4,743.0 L1722.1,722.9 L1727.6,764.6 L1731.3,716.8 L1734.4,756.9 L1738.1,749.2 L1741.2,756.9 L1745.2,746.1 L1748.3,753.8 L1752.9,722.9 L1756.6,746.1 L1760.6,733.7 L1765.9,746.1 L1767.7,687.4 L1771.5,732.2 L1774.5,744.6 L1779.2,746.1 L1782.3,752.3 L1786.3,733.7 L1790.6,724.5 L1794.6,693.6 L1798.6,718.3 L1801.7,735.3 L1805.4,710.6 L1807.9,727.6 L1811.6,706.0 L1815.3,749.2 L1818.4,727.6 L1822.4,721.4 L1827.0,755.4 L1831.7,744.6 L1836.3,752.3 L1839.4,746.1 L1844.0,735.3 L1848.6,743.0 L1854.8,724.5 L1858.5,743.0 L1862.5,702.9 L1867.2,746.1 L1870.9,709.1 L1875.8,727.6 L1879.5,746.1 L1884.1,712.1 L1888.8,743.0 L1893.4,746.1 L1898.0,721.4 L1901.1,743.0 L1904.8,724.5 L1907.9,727.6 L1911.9,672.0 L1915.0,746.1 L1919.6,730.7 L1924.3,715.2 L1927.4,746.1 L1931.4,743.0 L1935.1,706.0 L1935.8,705.0" stroke="#9578bd" stroke-width="4.0"/></g>
<circle cx="1931.8" cy="636" r="6" fill="#2f5bbd"/>
<circle cx="1931.8" cy="628" r="6" fill="#c97c46"/>
<circle cx="1931.8" cy="661" r="6" fill="#448874"/>
<circle cx="1931.9" cy="743.3" r="10.1" fill="#fff" stroke="#9578bd" stroke-width="6"/>
<line x1="1935.6" y1="290" x2="1935.6" y2="890" stroke="#989ca4" stroke-width="1.5" stroke-dasharray="3,1"/>
<rect x="1830" y="745" width="81.5" height="50" fill="#fff" stroke="#eef0f3" stroke-width="1.5"/>
<text x="1870.5" y="778.5" font-family="Liberation Sans" font-size="28" fill="#2b2f36" text-anchor="middle">344</text>
</svg>
<svg class="icons" width="2058" height="972" viewBox="0 0 2058 972" fill="none" stroke-linecap="round" stroke-linejoin="round">
<g stroke="#4a5260" stroke-width="2.4">
<circle cx="1375" cy="49" r="15"/>
<polyline points="1375,38 1375,49 1384.5,49" stroke-linecap="butt"/>
</g>
<polyline points="1804.5,43 1818,57 1831.5,43" stroke="#4f5866" stroke-width="2.5" stroke-linecap="butt" stroke-linejoin="miter"/>
<path d="M1892.8,49 L1906.6,34.7 L1906.6,42.5 L1915.7,42.5 L1915.7,55.5 L1906.6,55.5 L1906.6,63.3 Z" stroke="#1f2a37" stroke-width="2.7" stroke-linejoin="round"/>
<line x1="1921.7" y1="40.4" x2="1921.7" y2="57.2" stroke="#1f2a37" stroke-width="2.7" stroke-linecap="butt"/>
<path d="M2011.3,49 L1997.5,34.7 L1997.5,42.5 L1988.6,42.5 L1988.6,55.5 L1997.5,55.5 L1997.5,63.3 Z" stroke="#1f2a37" stroke-width="2.7" stroke-linejoin="round"/>
<line x1="1982.2" y1="40.4" x2="1982.2" y2="57.2" stroke="#1f2a37" stroke-width="2.7" stroke-linecap="butt"/>
<g stroke="#515966" stroke-width="2.7">
<path d="M1758.2,157.5 L1758.2,128.5 Q1758.2,126.5 1760.2,126.5 L1792,126.5 Q1794,126.5 1794,128.5 L1794,151.4 Q1794,153.4 1792,153.4 L1767,153.4 L1760.5,159 Q1758.2,160.5 1758.2,157.5 Z"/>
<line x1="1888" y1="124" x2="1888" y2="154"/>
<polyline points="1874.5,141 1888,154.5 1901.5,141"/>
<line x1="1873.5" y1="160.5" x2="1902.5" y2="160.5"/>
<circle cx="2000" cy="143.8" r="8.8"/>
<path d="M2000.00,124.20 L2000.51,124.23 L2001.02,124.32 L2001.52,124.47 L2002.01,124.68 L2002.48,124.96 L2002.92,125.33 L2003.33,125.86 L2003.57,127.02 L2003.90,127.56 L2004.25,127.96 L2004.59,128.29 L2004.95,128.57 L2005.30,128.82 L2005.67,129.03 L2006.05,129.20 L2006.44,129.35 L2006.84,129.46 L2007.27,129.54 L2007.72,129.58 L2008.20,129.60 L2008.73,129.56 L2009.34,129.42 L2010.34,128.76 L2010.99,128.67 L2011.57,128.73 L2012.10,128.86 L2012.59,129.06 L2013.05,129.30 L2013.48,129.60 L2013.86,129.94 L2014.20,130.32 L2014.50,130.75 L2014.74,131.21 L2014.94,131.70 L2015.07,132.23 L2015.13,132.81 L2015.04,133.46 L2014.38,134.46 L2014.24,135.07 L2014.20,135.60 L2014.22,136.08 L2014.26,136.53 L2014.34,136.96 L2014.45,137.36 L2014.60,137.75 L2014.77,138.13 L2014.98,138.50 L2015.23,138.85 L2015.51,139.21 L2015.84,139.55 L2016.24,139.90 L2016.78,140.23 L2017.94,140.47 L2018.47,140.88 L2018.84,141.32 L2019.12,141.79 L2019.33,142.28 L2019.48,142.78 L2019.57,143.29 L2019.60,143.80 L2019.57,144.31 L2019.48,144.82 L2019.33,145.32 L2019.12,145.81 L2018.84,146.28 L2018.47,146.72 L2017.94,147.13 L2016.78,147.37 L2016.24,147.70 L2015.84,148.05 L2015.51,148.39 L2015.23,148.75 L2014.98,149.10 L2014.77,149.47 L2014.60,149.85 L2014.45,150.24 L2014.34,150.64 L2014.26,151.07 L2014.22,151.52 L2014.20,152.00 L2014.24,152.53 L2014.38,153.14 L2015.04,154.14 L2015.13,154.79 L2015.07,155.37 L2014.94,155.90 L2014.74,156.39 L2014.50,156.85 L2014.20,157.28 L2013.86,157.66 L2013.48,158.00 L2013.05,158.30 L2012.59,158.54 L2012.10,158.74 L2011.57,158.87 L2010.99,158.93 L2010.34,158.84 L2009.34,158.18 L2008.73,158.04 L2008.20,158.00 L2007.72,158.02 L2007.27,158.06 L2006.84,158.14 L2006.44,158.25 L2006.05,158.40 L2005.67,158.57 L2005.30,158.78 L2004.95,159.03 L2004.59,159.31 L2004.25,159.64 L2003.90,160.04 L2003.57,160.58 L2003.33,161.74 L2002.92,162.27 L2002.48,162.64 L2002.01,162.92 L2001.52,163.13 L2001.02,163.28 L2000.51,163.37 L2000.00,163.40 L1999.49,163.37 L1998.98,163.28 L1998.48,163.13 L1997.99,162.92 L1997.52,162.64 L1997.08,162.27 L1996.67,161.74 L1996.43,160.58 L1996.10,160.04 L1995.75,159.64 L1995.41,159.31 L1995.05,159.03 L1994.70,158.78 L1994.33,158.57 L1993.95,158.40 L1993.56,158.25 L1993.16,158.14 L1992.73,158.06 L1992.28,158.02 L1991.80,158.00 L1991.27,158.04 L1990.66,158.18 L1989.66,158.84 L1989.01,158.93 L1988.43,158.87 L1987.90,158.74 L1987.41,158.54 L1986.95,158.30 L1986.52,158.00 L1986.14,157.66 L1985.80,157.28 L1985.50,156.85 L1985.26,156.39 L1985.06,155.90 L1984.93,155.37 L1984.87,154.79 L1984.96,154.14 L1985.62,153.14 L1985.76,152.53 L1985.80,152.00 L1985.78,151.52 L1985.74,151.07 L1985.66,150.64 L1985.55,150.24 L1985.40,149.85 L1985.23,149.47 L1985.02,149.10 L1984.77,148.75 L1984.49,148.39 L1984.16,148.05 L1983.76,147.70 L1983.22,147.37 L1982.06,147.13 L1981.53,146.72 L1981.16,146.28 L1980.88,145.81 L1980.67,145.32 L1980.52,144.82 L1980.43,144.31 L1980.40,143.80 L1980.43,143.29 L1980.52,142.78 L1980.67,142.28 L1980.88,141.79 L1981.16,141.32 L1981.53,140.88 L1982.06,140.47 L1983.22,140.23 L1983.76,139.90 L1984.16,139.55 L1984.49,139.21 L1984.77,138.85 L1985.02,138.50 L1985.23,138.13 L1985.40,137.75 L1985.55,137.36 L1985.66,136.96 L1985.74,136.53 L1985.78,136.08 L1985.80,135.60 L1985.76,135.07 L1985.62,134.46 L1984.96,133.46 L1984.87,132.81 L1984.93,132.23 L1985.06,131.70 L1985.26,131.21 L1985.50,130.75 L1985.80,130.32 L1986.14,129.94 L1986.52,129.60 L1986.95,129.30 L1987.41,129.06 L1987.90,128.86 L1988.43,128.73 L1989.01,128.67 L1989.66,128.76 L1990.66,129.42 L1991.27,129.56 L1991.80,129.60 L1992.28,129.58 L1992.73,129.54 L1993.16,129.46 L1993.56,129.35 L1993.95,129.20 L1994.33,129.03 L1994.70,128.82 L1995.05,128.57 L1995.41,128.29 L1995.75,127.96 L1996.10,127.56 L1996.43,127.02 L1996.67,125.86 L1997.08,125.33 L1997.52,124.96 L1997.99,124.68 L1998.48,124.47 L1998.98,124.32 L1999.49,124.23 Z"/>
</g>
</svg>
</body></html>
